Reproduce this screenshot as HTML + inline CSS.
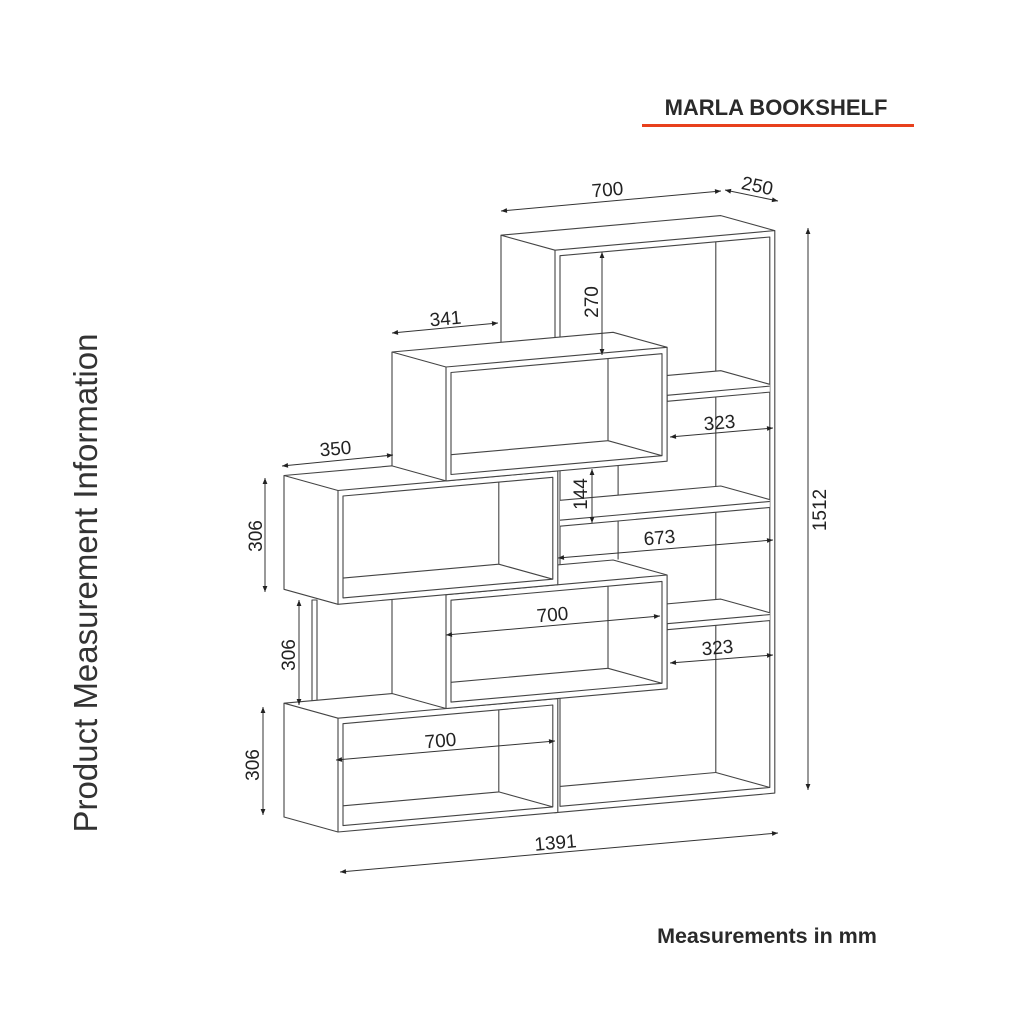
<!DOCTYPE html>
<html><head><meta charset="utf-8">
<style>
html,body{margin:0;padding:0;background:#fff;}
svg{display:block;}
text{font-family:"Liberation Sans",Arial,sans-serif;fill:#222;}
</style></head>
<body>
<svg id="s" width="1024" height="1024" viewBox="0 0 1024 1024" xmlns="http://www.w3.org/2000/svg">
<defs>
<marker id="ar" viewBox="0 0 10 10" refX="10" refY="5" markerWidth="9" markerHeight="6" orient="auto-start-reverse" markerUnits="userSpaceOnUse">
<path d="M0,1 L10,5 L0,9 z" fill="#222"/></marker>
</defs>
<g id="draw" stroke="#444" stroke-width="1.1" fill="none" stroke-linejoin="round"></g>
<g stroke="#333" stroke-width="1" fill="none" marker-start="url(#ar)" marker-end="url(#ar)">
<line x1="501" y1="211" x2="721" y2="191"/>
<line x1="725" y1="190" x2="778" y2="201"/>
<line x1="808" y1="228" x2="808" y2="790"/>
<line x1="602" y1="252" x2="602" y2="355"/>
<line x1="392" y1="333" x2="498" y2="323"/>
<line x1="670" y1="437" x2="773" y2="428"/>
<line x1="282" y1="466" x2="393" y2="455"/>
<line x1="265" y1="478" x2="265" y2="592"/>
<line x1="592" y1="469" x2="592" y2="523"/>
<line x1="558" y1="558" x2="773" y2="540"/>
<line x1="299" y1="600" x2="299" y2="705"/>
<line x1="446" y1="635" x2="660" y2="616"/>
<line x1="670" y1="663" x2="773" y2="655"/>
<line x1="263" y1="707" x2="263" y2="815"/>
<line x1="336" y1="760" x2="555" y2="741"/>
<line x1="340" y1="872" x2="778" y2="833"/>
</g>
<g font-size="19">
<text x="608" y="196" text-anchor="middle" transform="rotate(-5 608 196)">700</text>
<text x="756" y="192" text-anchor="middle" transform="rotate(12 756 192)">250</text>
<text x="826" y="510" text-anchor="middle" transform="rotate(-90 826 510)">1512</text>
<text x="598" y="302" text-anchor="middle" transform="rotate(-90 598 302)">270</text>
<text x="446" y="325" text-anchor="middle" transform="rotate(-5 446 325)">341</text>
<text x="720" y="429" text-anchor="middle" transform="rotate(-5 720 429)">323</text>
<text x="336" y="455" text-anchor="middle" transform="rotate(-5 336 455)">350</text>
<text x="262" y="536" text-anchor="middle" transform="rotate(-90 262 536)">306</text>
<text x="587" y="494" text-anchor="middle" transform="rotate(-90 587 494)">144</text>
<text x="660" y="544" text-anchor="middle" transform="rotate(-5 660 544)">673</text>
<text x="295" y="655" text-anchor="middle" transform="rotate(-90 295 655)">306</text>
<text x="553" y="621" text-anchor="middle" transform="rotate(-5 553 621)">700</text>
<text x="718" y="654" text-anchor="middle" transform="rotate(-5 718 654)">323</text>
<text x="259" y="765" text-anchor="middle" transform="rotate(-90 259 765)">306</text>
<text x="441" y="747" text-anchor="middle" transform="rotate(-5 441 747)">700</text>
<text x="556" y="849" text-anchor="middle" transform="rotate(-5 556 849)">1391</text>
</g>
<text x="776" y="115" font-size="22" font-weight="bold" text-anchor="middle" style="fill:#2a2a2a">MARLA BOOKSHELF</text>
<rect x="642" y="124" width="272" height="3" fill="#e8401c"/>
<text x="767" y="943" font-size="21.5" font-weight="bold" text-anchor="middle" style="fill:#2a2a2a">Measurements in mm</text>
<text x="97" y="583" font-size="33" text-anchor="middle" transform="rotate(-90 97 583)" style="fill:#333">Product Measurement Information</text>
</svg>
<script>
(function(){
var g=document.getElementById('draw'),NS='http://www.w3.org/2000/svg',D=250,t=16,cid=0;
function P(X,Y,Z){return [338+0.314*X-0.216*Z,832-0.028*X-0.372*Y-0.06*Z];}
function pts(a){return a.map(function(p){return p[0].toFixed(1)+','+p[1].toFixed(1);}).join(' ');}
function el(n,at,par){var e=document.createElementNS(NS,n);for(var k in at)e.setAttribute(k,at[k]);(par||g).appendChild(e);return e;}
function poly(a,fill,par,stroke){return el('polygon',{points:pts(a),fill:fill||'none',stroke:stroke===false?'none':'#444'},par);}
function pl(a,par){return el('polyline',{points:pts(a)},par);}
function clipFor(a){var id='c'+(cid++);var c=el('clipPath',{id:id},document.querySelector('defs'));el('polygon',{points:pts(a)},c);return el('g',{'clip-path':'url(#'+id+')'});}
function box(X0,X1,Y0,Y1){
 poly([P(X0,Y0,0),P(X1,Y0,0),P(X1,Y1,0),P(X1,Y1,D),P(X0,Y1,D),P(X0,Y0,D)],'#fff',null,false);
 poly([P(X0,Y0,0),P(X1,Y0,0),P(X1,Y1,0),P(X0,Y1,0)]);
 pl([P(X0,Y1,0),P(X0,Y1,D),P(X1,Y1,D),P(X1,Y1,0)]);
 pl([P(X0,Y1,D),P(X0,Y0,D),P(X0,Y0,0)]);
 var inr=[P(X0+t,Y0+t,0),P(X1-t,Y0+t,0),P(X1-t,Y1-t,0),P(X0+t,Y1-t,0)];
 poly(inr);
 var c=clipFor(inr);
 pl([P(X0+t,Y0+t,D),P(X1-t,Y0+t,D),P(X1-t,Y1-t,D)],c);
 pl([P(X1-t,Y0+t,0),P(X1-t,Y0+t,D)],c);
}
var F0=691,F1=1391,H=1512;
poly([P(F0,0,0),P(F1,0,0),P(F1,H,0),P(F1,H,D),P(F0,H,D),P(F0,0,D)],'#fff',null,false);
poly([P(F0,0,0),P(F1,0,0),P(F1,H,0),P(F0,H,0)]);
pl([P(F0,H,0),P(F0,H,D),P(F1,H,D),P(F1,H,0)]);
pl([P(F0,H,D),P(F0,0,D),P(F0,0,0)]);
var fin=[P(F0+t,t,0),P(F1-t,t,0),P(F1-t,H-t,0),P(F0+t,H-t,0)];
poly(fin);
var fc=clipFor(fin);
pl([P(F0+t,t,D),P(F1-t,t,D),P(F1-t,H-t,D)],fc);
pl([P(F1-t,t,0),P(F1-t,t,D)],fc);
pl([P(F0+t,H-t,D),P(F0+t,t,D)],fc);
pl([P(1064,612,D),P(1064,918,D)],fc);
function shelf(a,b,y){
 var c2=el('g',{'clip-path':fc.getAttribute('clip-path')});
 poly([P(a,y,0),P(b,y,0),P(b,y+t,0),P(b,y+t,D),P(a,y+t,D),P(a,y+t,0)],'#fff',c2,false);
 poly([P(a,y,0),P(b,y,0),P(b,y+t,0),P(a,y+t,0)],null,c2);
 pl([P(a,y+t,0),P(a,y+t,D),P(b,y+t,D),P(b,y+t,0)],c2);
}
shelf(1048,1391,465);
shelf(691,1391,769);
shelf(1048,1391,1079);
el('rect',{x:312,y:600,width:5,height:107,fill:'#fff'});
box(0,700,0,306);
box(344,1048,306,612);
box(0,700,612,918);
box(344,1048,918,1224);
})();
</script>
</body></html>
